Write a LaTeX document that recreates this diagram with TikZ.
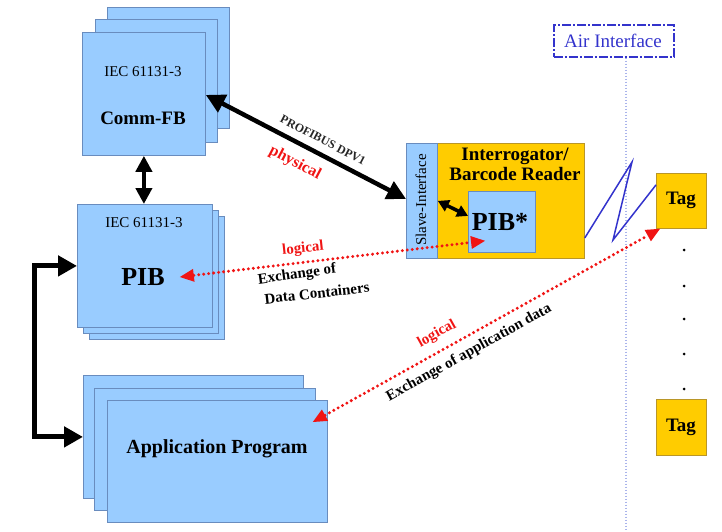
\documentclass[tikz,border=0pt]{standalone}
\usepackage{fontspec}
\setmainfont{Liberation Serif}
\usetikzlibrary{arrows.meta}
\definecolor{boxfill}{RGB}{153,204,255}
\definecolor{boxline}{RGB}{105,140,190}
\definecolor{gold}{RGB}{255,204,0}
\definecolor{goldline}{RGB}{185,150,40}
\definecolor{airblue}{RGB}{51,51,204}
\definecolor{airline}{RGB}{170,180,235}
\definecolor{logicred}{RGB}{240,20,20}
\newcommand{\fsz}[1]{\fontsize{#1}{#1}\selectfont}
\begin{document}
\begin{tikzpicture}[x=1pt,y=-1pt,
  sized/.style 2 args={minimum width=#1pt,minimum height=#2pt},
  bluebox/.style={draw=boxline,fill=boxfill,line width=0.8pt,inner sep=0pt,anchor=north west},
  goldbox/.style={draw=goldline,fill=gold,line width=0.8pt,inner sep=0pt,anchor=north west},
  lbl/.style={inner sep=0pt,text=black},
  thickarrow/.style={line width=4.5pt,{Triangle[length=16pt,width=16pt]}-{Triangle[length=16pt,width=16pt]}},
  logicarrow/.style={draw=logicred,line width=3.3pt,dash pattern=on 0pt off 5pt,line cap=round,
    {Triangle[length=14pt,width=13pt,fill=logicred,line width=0pt]}-{Triangle[length=14pt,width=13pt,fill=logicred,line width=0pt]}},
  redlbl/.style={inner sep=0pt,text=logicred,font=\bfseries\fsz{15}},
  blklbl/.style={inner sep=0pt,text=black,font=\bfseries\fsz{15}}]

\useasboundingbox (0,0) rectangle (722,531);

% Comm-FB stack
\node[bluebox,sized={122}{121}] (commC) at (107,7) {};
\node[bluebox,sized={122}{123}] (commB) at (95,19) {};
\node[bluebox,sized={123}{123}] (commfb) at (82,32) {};
\node[lbl,font=\fsz{15}] (commiec) at (143,72) {IEC 61131-3};
\node[lbl,font=\bfseries\fsz{19}] (commtxt) at (143,118) {Comm-FB};

% PIB stack
\node[bluebox,sized={135}{123}] (pibC) at (89,216) {};
\node[bluebox,sized={135}{123}] (pibB) at (83,210) {};
\node[bluebox,sized={135}{123}] (pib) at (77,204) {};
\node[lbl,font=\fsz{15}] (pibiec) at (144,223) {IEC 61131-3};
\node[lbl,font=\bfseries\fsz{26}] (pibtxt) at (143,277) {PIB};

% Application program stack
\node[bluebox,sized={220}{123}] (appC) at (83,375) {};
\node[bluebox,sized={221}{122}] (appB) at (94,388) {};
\node[bluebox,sized={220}{122}] (appA) at (107,400) {};
\node[lbl,font=\bfseries\fsz{20}] (apptxt) at (217,449) {Application Program};

% Interrogator / barcode reader
\node[goldbox,sized={147}{115}] (reader) at (437,143) {};
\node[bluebox,sized={31}{115}] (slave) at (406,143) {};
\node[lbl,font=\fsz{15},rotate=90] (slavetxt) at (421,200) {Slave-Interface};
\node[lbl,font=\bfseries\fsz{19},align=center] (readertxt) at (515,164)
  {Interrogator/\\[1pt]Barcode Reader};
\node[bluebox,sized={67}{61}] (pibstar) at (468,191) {};
\node[lbl,font=\bfseries\fsz{26}] (pibstartxt) at (500,222) {PIB*};

% Tags
\node[goldbox,sized={50}{55}] (tag1) at (656,173) {};
\node[lbl,font=\bfseries\fsz{19}] (tag1txt) at (681,200) {Tag};
\node[goldbox,sized={50}{56}] (tag2) at (656,399) {};
\node[lbl,font=\bfseries\fsz{19}] (tag2txt) at (681,427) {Tag};
\foreach \yy in {250,286,319,354,389} \fill (684,\yy) circle (1.5pt);

% Air interface
\node[draw=airblue,line width=1.5pt,dash pattern=on 9pt off 2pt on 2pt off 2pt,
      anchor=north west,sized={120}{32},inner sep=0pt] (air) at (553,24) {};
\node[lbl,text=airblue,font=\fsz{19}] (airtxt) at (613,41) {Air Interface};
\coordinate (airend) at (626,531);
\draw[airline,line width=1.2pt,dash pattern=on 1.5pt off 1.5pt] (airend |- air.south) -- (airend);

% Radio link
\coordinate (zA) at (632,162);
\coordinate (zB) at (613,240);
\draw[airblue,line width=1.5pt,line join=miter]
  ([yshift=-37pt]reader.east) -- (zA) -- (zB) -- ([yshift=16pt]tag1.west);

% Physical links
\draw[thickarrow] (commfb.south) -- (commfb.south |- pib.north);
\draw[thickarrow,{Triangle[length=19pt,width=19pt]}-{Triangle[length=19pt,width=19pt]}]
  ([yshift=-1pt]commfb.east) -- ([yshift=2pt]slave.west);
\draw[line width=5pt,{Triangle[length=19pt,width=20pt]}-{Triangle[length=19pt,width=20pt]}]
  (pib.west) -- ++(-43,0) |- (appC.west);
\draw[line width=3.5pt,{Triangle[length=11pt,width=12pt]}-{Triangle[length=11pt,width=12pt]}]
  (slave.east) -- ([yshift=6pt]pibstar.west);

\node[lbl,font=\bfseries\fsz{12},rotate=-27.5,text=black!85] (profi) at (323,140) {PROFIBUS DPV1};
\node[redlbl,font=\bfseries\fsz{16},rotate=-27.5] (phys) at (295,163) {physical};

% Logical links
\draw[logicarrow] ([xshift=15pt]pibtxt.east) -- ([xshift=17pt,yshift=12pt]pibstar.south west);
\node[redlbl,rotate=6] (log1) at (303,249) {logical};
\node[blklbl,rotate=8] (ex1) at (297,275) {Exchange of};
\node[blklbl,rotate=6.5] (ex2) at (317,293) {Data Containers};

\draw[logicarrow] ([xshift=-15pt,yshift=-22pt]appA.north east) -- ([xshift=4pt]tag1.south west);
\node[redlbl,rotate=29] (log2) at (437,334) {logical};
\node[blklbl,rotate=29] (ex3) at (469,353) {Exchange of application data};

\end{tikzpicture}
\end{document}
